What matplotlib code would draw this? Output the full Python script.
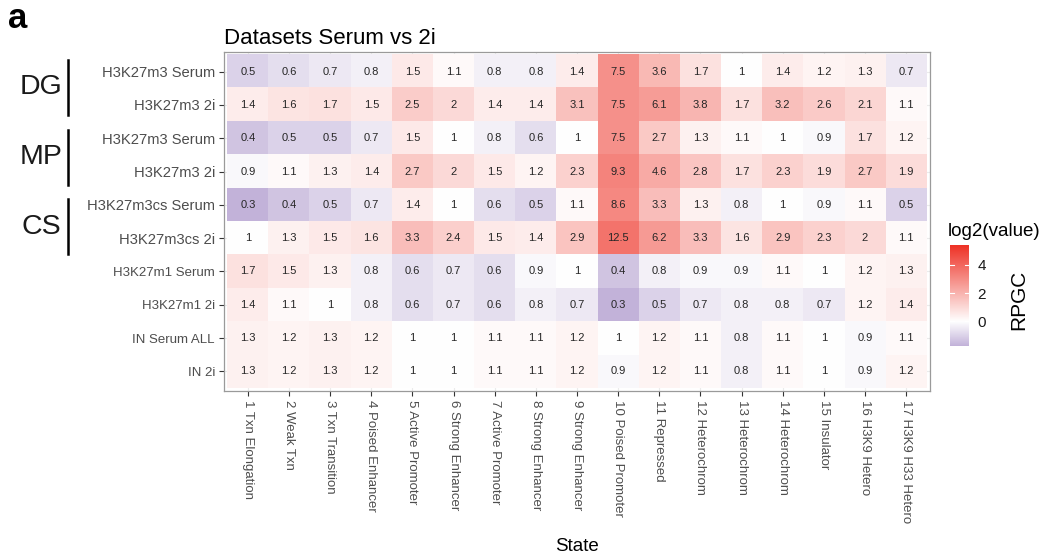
import numpy as np
import matplotlib
matplotlib.use('Agg')
import matplotlib.pyplot as plt
from matplotlib.colors import LinearSegmentedColormap, TwoSlopeNorm
from matplotlib.lines import Line2D

plt.rcParams['font.family'] = ['Liberation Sans', 'DejaVu Sans']

STATES = ['1 Txn Elongation', '2 Weak Txn', '3 Txn Transition', '4 Poised Enhancer',
          '5 Active Promoter', '6 Strong Enhancer', '7 Active Promoter', '8 Strong Enhancer',
          '9 Strong Enhancer', '10 Poised Promoter', '11 Repressed', '12 Heterochrom',
          '13 Heterochrom', '14 Heterochrom', '15 Insulator', '16 H3K9 Hetero',
          '17 H3K9 H33 Hetero']

SAMPLES = ['H3K27m3 Serum', 'H3K27m3 2i', 'H3K27m3 Serum', 'H3K27m3 2i',
           'H3K27m3cs Serum', 'H3K27m3cs 2i', 'H3K27m1 Serum', 'H3K27m1 2i',
           'IN Serum ALL', 'IN 2i']

# RPGC enrichment per chromatin state
dg_serum = [0.5, 0.6, 0.7, 0.8, 1.5, 1.1, 0.8, 0.8, 1.4, 7.5, 3.6, 1.7, 1, 1.4, 1.2, 1.3, 0.7]
dg_2i = [1.4, 1.6, 1.7, 1.5, 2.5, 2, 1.4, 1.4, 3.1, 7.5, 6.1, 3.8, 1.7, 3.2, 2.6, 2.1, 1.1]
mp_serum = [0.4, 0.5, 0.5, 0.7, 1.5, 1, 0.8, 0.6, 1, 7.5, 2.7, 1.3, 1.1, 1, 0.9, 1.7, 1.2]
mp_2i = [0.9, 1.1, 1.3, 1.4, 2.7, 2, 1.5, 1.2, 2.3, 9.3, 4.6, 2.8, 1.7, 2.3, 1.9, 2.7, 1.9]
cs_serum = [0.3, 0.4, 0.5, 0.7, 1.4, 1, 0.6, 0.5, 1.1, 8.6, 3.3, 1.3, 0.8, 1, 0.9, 1.1, 0.5]
cs_2i = [1, 1.3, 1.5, 1.6, 3.3, 2.4, 1.5, 1.4, 2.9, 12.5, 6.2, 3.3, 1.6, 2.9, 2.3, 2, 1.1]
m1_serum = [1.7, 1.5, 1.3, 0.8, 0.6, 0.7, 0.6, 0.9, 1, 0.4, 0.8, 0.9, 0.9, 1.1, 1, 1.2, 1.3]
m1_2i = [1.4, 1.1, 1, 0.8, 0.6, 0.7, 0.6, 0.8, 0.7, 0.3, 0.5, 0.7, 0.8, 0.8, 0.7, 1.2, 1.4]
in_serum = [1.3, 1.2, 1.3, 1.2, 1, 1, 1.1, 1.1, 1.2, 1, 1.2, 1.1, 0.8, 1.1, 1, 0.9, 1.1]
in_2i = [1.3, 1.2, 1.3, 1.2, 1, 1, 1.1, 1.1, 1.2, 0.9, 1.2, 1.1, 0.8, 1.1, 1, 0.9, 1.2]

GROUPS = ['DG', 'MP', 'CS']
FILL_LIMITS = (-1.74, 5.4)
CBAR_TICKS = [0, 2, 4]

values = np.array([dg_serum, dg_2i, mp_serum, mp_2i, cs_serum, cs_2i,
                   m1_serum, m1_2i, in_serum, in_2i])
fill = np.log2(values)

cmap = LinearSegmentedColormap.from_list('rpgc', ['#c2b2d9', '#ffffff', '#ee3226'])
norm = TwoSlopeNorm(vmin=FILL_LIMITS[0], vcenter=0, vmax=FILL_LIMITS[1])

fig = plt.figure(figsize=(10.43, 5.57), dpi=100)
ax = fig.add_axes([224 / 1043, 1 - 391 / 557, 706 / 1043, 339 / 557])

ax.set_axisbelow(True)
ax.grid(True, color='#ebebeb', linewidth=0.8)
ax.imshow(fill, cmap=cmap, norm=norm, aspect='auto', interpolation='nearest', zorder=2)
ax.set_xlim(-0.58, len(STATES) - 0.42)
ax.set_ylim(len(SAMPLES) - 0.41, -0.59)

for i in range(values.shape[0]):
    for j in range(values.shape[1]):
        ax.text(j, i, f'{values[i, j]:g}', ha='center', va='center',
                fontsize=8, color='#262626', zorder=3)

ax.set_xticks(range(len(STATES)))
ax.set_xticklabels(STATES, rotation=270, ha='center', va='top',
                   fontsize=9.5, color='#4d4d4d')
ax.set_yticks(range(len(SAMPLES)))
ax.set_yticklabels(SAMPLES, fontsize=9.5, color='#4d4d4d')
# the K27me3 rows carry slightly larger labels
for lab in ax.get_yticklabels()[:6]:
    lab.set_fontsize(10.6)
ax.tick_params(length=3.5, width=0.8, color='#333333', pad=3)
for sp in ax.spines.values():
    sp.set_color('#9a9a9a')
    sp.set_linewidth(0.9)

ax.set_title('Datasets Serum vs 2i', loc='left', fontsize=16, pad=6, color='black')
ax.set_xlabel('State', fontsize=13.5, labelpad=11, color='black')

# group brackets on the left
for k, g in enumerate(GROUPS):
    y0 = 1 - (60 + k * 69.5) / 557
    y1 = 1 - (115 + k * 69.5) / 557
    fig.add_artist(Line2D([68 / 1043, 68 / 1043], [y0, y1], color='black', linewidth=1.8))
    fig.text(41 / 1043, (y0 + y1) / 2, g, ha='center', va='center', fontsize=20.5, color='#1a1a1a')

fig.text(8 / 1043, 1 - 19 / 557, 'a', ha='left', va='center', fontsize=25, fontweight='bold')

# colour bar
cax = fig.add_axes([950 / 1043, 1 - 346 / 557, 19 / 1043, 101 / 557])
grad = np.linspace(FILL_LIMITS[0], FILL_LIMITS[1], 300).reshape(-1, 1)
cax.imshow(grad, cmap=cmap, norm=norm, aspect='auto', origin='lower',
           extent=[0, 1, FILL_LIMITS[0], FILL_LIMITS[1]])
cax.set_xlim(0, 1)
cax.set_ylim(*FILL_LIMITS)
cax.set_xticks([])
cax.yaxis.tick_right()
cax.set_yticks(CBAR_TICKS)
cax.set_yticklabels([str(t) for t in CBAR_TICKS], fontsize=11, color='#1a1a1a')
cax.tick_params(axis='y', length=0, pad=6)
for t in CBAR_TICKS:
    cax.plot([0, 0.2], [t, t], color='white', linewidth=0.8)
    cax.plot([0.8, 1], [t, t], color='white', linewidth=0.8)
for sp in cax.spines.values():
    sp.set_visible(False)
fig.text(948 / 1043, 1 - 231 / 557, 'log2(value)', ha='left', va='center', fontsize=13.5)
fig.text(1019 / 1043, 1 - 300 / 557, 'RPGC', ha='center', va='center',
         rotation=90, fontsize=15)

fig.savefig('out.png', dpi=100)
